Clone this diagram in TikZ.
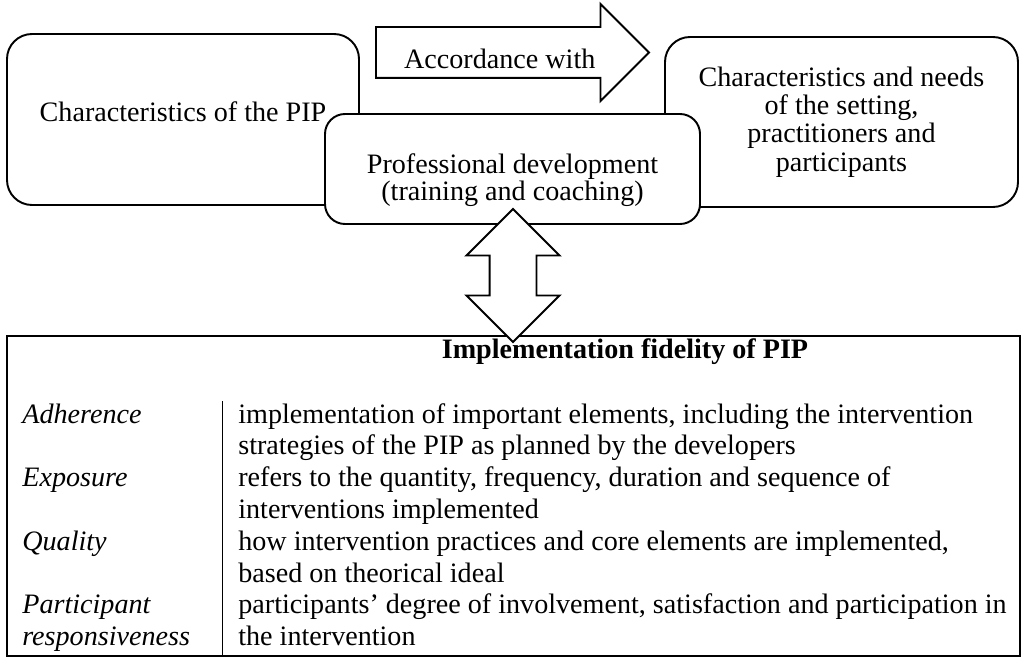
\documentclass[tikz,border=0pt]{standalone}
\usepackage{fontspec}
\setmainfont{Liberation Serif}
\usepackage{tikz}
\usetikzlibrary{positioning, shapes, arrows.meta}

\begin{document}
\begin{tikzpicture}[
    pipbox/.style={draw, line width=1.1pt, rounded corners=0.5cm, fill=white, align=center, font=\fontsize{16}{16.2}\selectfont},
    blockarrow/.style={draw, line width=1.1pt, fill=white, inner sep=0pt}
  ]
  \useasboundingbox (0,0) rectangle (20.44,-13.14);

  \node[pipbox, minimum width=7.04cm, minimum height=3.42cm, text depth=0.32cm] (pipchar) at (3.66,-2.39) {Characteristics of the PIP};
  \node[pipbox, minimum width=7.06cm, minimum height=3.4cm] (setting) at (16.83,-2.44) {Characteristics and needs\\of the setting,\\practitioners and\\participants};

  \node[blockarrow, single arrow, single arrow head extend=0.46cm, single arrow tip angle=90, minimum height=5.46cm, text height=0.65cm, text depth=0cm, inner ysep=0.165cm, inner xsep=0.2cm, anchor=tail, font=\fontsize{16}{16.2}\selectfont] (accord) at (7.5,-1.05) {Accordance with};

  \node[pipbox, rounded corners=0.4cm, minimum width=7.5cm, minimum height=2.2cm, font=\fontsize{16}{15.4}\selectfont] (profdev) at (10.25,-3.38) {\rule{0pt}{0.83cm}Professional development\\(training and coaching)};

  \node[draw, line width=0.85pt, minimum width=20.26cm, minimum height=6.4cm, inner sep=0pt] (fidelity) at (10.27,-9.92) {};
  \node[font=\fontsize{16}{16.2}\selectfont\bfseries] (fidtitle) at (12.5,-7.04) {Implementation fidelity of PIP};
  \node[anchor=base west, inner sep=0pt, font=\fontsize{16}{18.1}\selectfont] (fidtable) at (0.44,-8.46) {%
    \setlength{\tabcolsep}{0.32cm}\setlength{\arrayrulewidth}{0.8pt}%
    \begin{tabular}[t]{@{}p{3.68cm}|l@{}}
      \textit{Adherence} & implementation of important elements, including the intervention\\
       & strategies of the PIP as planned by the developers\\
      \textit{Exposure} & refers to the quantity, frequency, duration and sequence of\\
       & interventions implemented\\
      \textit{Quality} & how intervention practices and core elements are implemented,\\
       & based on theorical ideal\\
      \textit{Participant} & participants’ degree of involvement, satisfaction and participation in\\
      \textit{responsiveness} & the intervention
    \end{tabular}};

  % two-way link between training and fidelity
  \node[blockarrow, double arrow, double arrow head extend=0.46cm, double arrow tip angle=90, minimum height=2.66cm, inner xsep=0pt, inner ysep=0.45cm, rotate=90] (link) at (10.26,-5.51) {};
\end{tikzpicture}
\end{document}
